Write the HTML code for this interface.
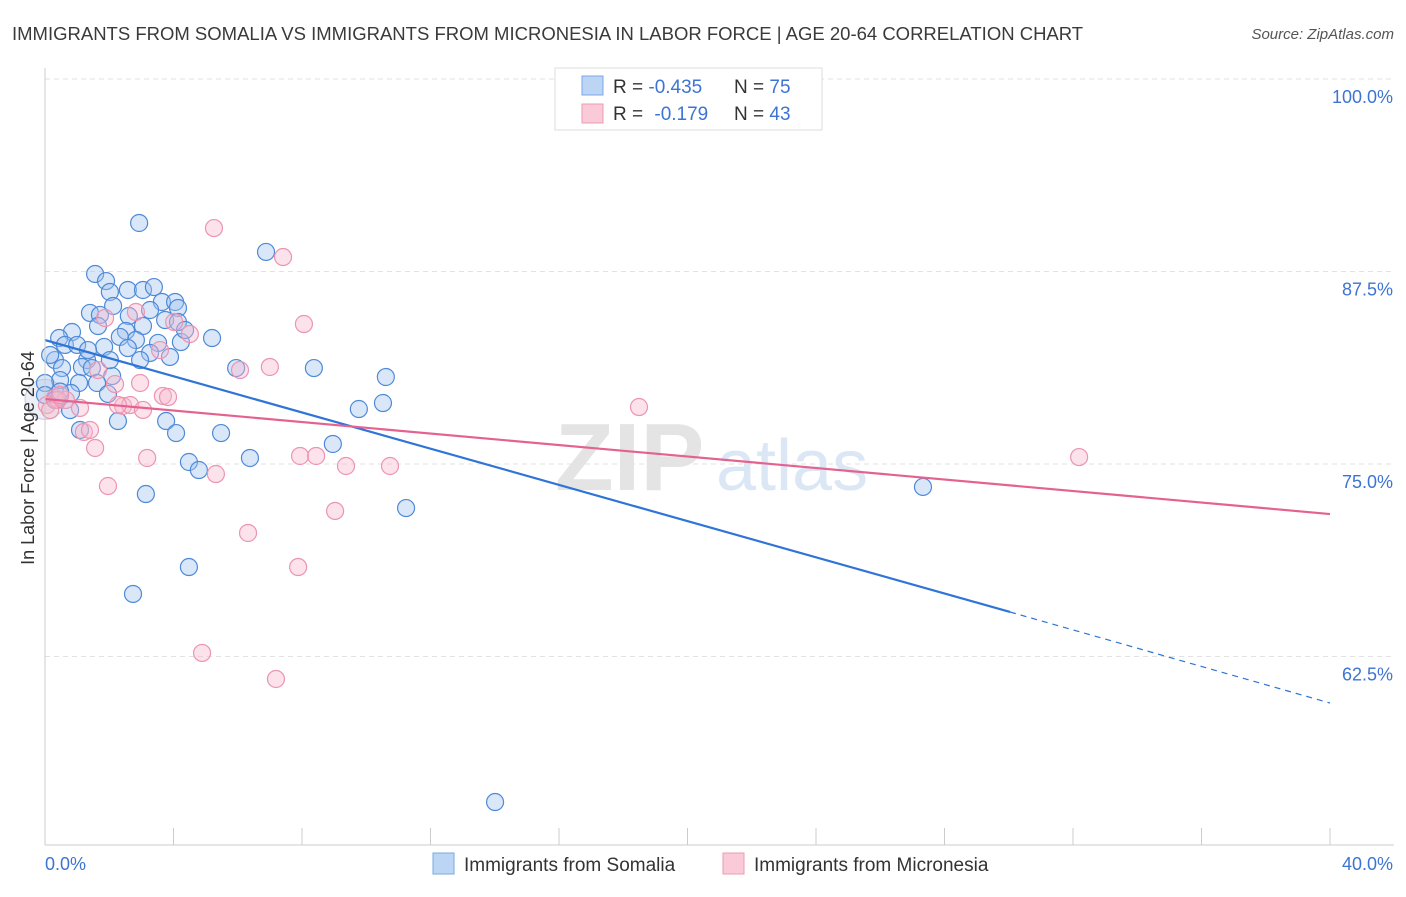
<!DOCTYPE html>
<html><head><meta charset="utf-8"><style>
body{margin:0;background:#fff;font-family:"Liberation Sans",sans-serif}
svg text{font-family:"Liberation Sans",sans-serif}
</style></head><body>
<svg width="1406" height="892" id="chart" xmlns="http://www.w3.org/2000/svg">
<text x="12" y="40" font-size="18.5" fill="#3a3a3a">IMMIGRANTS FROM SOMALIA VS IMMIGRANTS FROM MICRONESIA IN LABOR FORCE | AGE 20-64 CORRELATION CHART</text>
<text x="1394" y="39" font-size="15" fill="#555" text-anchor="end" font-style="italic">Source: ZipAtlas.com</text>
<g id="grid"></g>
<g><text x="555" y="490" font-size="96" fill="#e4e4e4" font-family="Liberation Serif" font-weight="bold">ZIP</text><text x="716" y="490" font-size="72" fill="#dce7f6">atlas</text></g>
<g id="points"></g>
<g id="lines"></g>
<g id="axes"></g>
<text transform="translate(34,458) rotate(-90)" font-size="18" fill="#333" text-anchor="middle">In Labor Force | Age 20-64</text>
<g>
<rect x="555" y="68" width="267" height="62" fill="#fff" stroke="#ddd"/>
<rect x="582" y="76" width="21" height="19" fill="#bcd5f5" stroke="#7aa8e6"/>
<rect x="582" y="104" width="21" height="19" fill="#fbcad8" stroke="#ee9ab5"/>
<text x="613" y="93" font-size="19" fill="#333">R = <tspan fill="#3d74d4">-0.435</tspan><tspan x="734">N = </tspan><tspan fill="#3d74d4">75</tspan></text>
<text x="613" y="120" font-size="19" fill="#333">R = <tspan fill="#3d74d4" dx="6">-0.179</tspan><tspan x="734">N = </tspan><tspan fill="#3d74d4">43</tspan></text>
</g>
<g>
<rect x="433" y="853" width="21" height="21" fill="#bcd5f5" stroke="#7aa8e6"/>
<text x="464" y="871" font-size="19" fill="#333">Immigrants from Somalia</text>
<rect x="723" y="853" width="21" height="21" fill="#fbcad8" stroke="#ee9ab5"/>
<text x="754" y="871" font-size="19" fill="#333">Immigrants from Micronesia</text>
</g>
</svg>
<script>
const yTicks=[100,87.5,75,62.5];
const yTickLabels=["100.0%","87.5%","75.0%","62.5%"];
const xTickLabels=["0.0%","40.0%"];
const blueX=[2.93,6.88,1.56,1.90,2.02,2.58,3.05,3.39,3.64,4.05,4.14,2.12,1.40,1.71,2.61,1.65,3.05,3.74,4.14,0.84,0.44,2.52,2.83,2.33,5.20,0.62,1.00,1.84,2.58,3.52,4.23,3.27,3.89,0.31,1.31,0.53,1.15,1.46,5.95,8.37,2.09,0.47,0,1.06,1.62,10.61,1.96,0.81,0,9.77,10.52,2.27,3.77,1.09,4.08,5.48,8.96,4.48,6.38,4.79,3.14,11.24,27.33,4.48,2.74,14.01,0.31,0.16,2.02,3.27,1.34,0.78,2.96,4.36,0.47];
const blueY=[90.65,88.77,87.34,86.88,86.17,86.30,86.30,86.49,85.52,85.52,85.13,85.26,84.81,84.68,84.61,83.96,83.96,84.35,84.22,83.57,83.18,83.64,83.05,83.25,83.18,82.73,82.73,82.60,82.53,82.86,82.92,82.21,81.95,81.75,81.75,81.23,81.30,81.23,81.23,81.23,80.71,80.45,80.26,80.26,80.26,80.65,79.55,79.61,79.48,78.57,78.96,77.79,77.79,77.21,77.01,77.01,76.30,75.13,75.39,74.61,73.05,72.14,73.51,68.31,66.56,53.05,79.16,82.08,81.75,85.0,82.4,78.5,81.75,83.7,79.7];
const pinkX=[5.26,7.41,8.06,2.83,4.02,4.51,3.58,1.87,7.00,6.07,1.65,2.18,3.67,3.83,0.31,0.06,0.65,1.09,2.43,2.65,3.05,0.40,1.21,1.56,3.18,7.94,8.44,9.37,10.74,5.32,1.96,9.03,6.32,7.88,4.89,7.19,18.49,32.19,2.27,1.40,0.47,0.16,2.96];
const pinkY=[90.32,88.44,84.09,84.87,84.22,83.44,82.40,84.48,81.30,81.10,81.10,80.19,79.42,79.35,79.29,78.83,79.16,78.64,78.77,78.83,78.51,79.16,77.08,76.04,75.39,75.52,75.52,74.87,74.87,74.35,73.57,71.95,70.52,68.31,62.73,61.04,78.70,75.45,78.83,77.21,79.48,78.5,80.26];
const blueLine=[83.05,65.39,59.48]; // y at x=0, x=30.04, x=40
const blueLineX=[0,30.04,40];
const pinkLine=[79.22,71.75];
const pinkLineX=[0,40];

const NS="http://www.w3.org/2000/svg";
const xs=v=>45+v*32.125;
const ys=v=>79+(100-v)*15.4;
function mk(tag,attrs,parent){const e=document.createElementNS(NS,tag);for(const k in attrs)e.setAttribute(k,attrs[k]);parent.appendChild(e);return e;}
const grid=document.getElementById('grid'),axes=document.getElementById('axes'),pts=document.getElementById('points'),lines=document.getElementById('lines');
yTicks.forEach((t,i)=>{
 const l=mk('line',{x1:45,x2:1394,y1:ys(t),y2:ys(t),stroke:'#e2e2e2','stroke-dasharray':'5,4'},grid);
 
 
 const tx=mk('text',{x:1393,y:ys(t)+24,'font-size':18,fill:'#3d74d4','text-anchor':'end'},axes);
 tx.textContent=yTickLabels[i];
 
 
});
mk('line',{x1:45,x2:45,y1:68,y2:845,stroke:'#ccc'},axes);
mk('line',{x1:45,x2:1394,y1:845,y2:845,stroke:'#ccc'},axes);
for(let i=0;i<=10;i++){mk('line',{x1:xs(i*4),x2:xs(i*4),y1:828,y2:845,stroke:'#ccc'},axes);}
[[0,45,'start'],[40,1393,'end']].forEach((d,i)=>{const t=mk('text',{x:d[1],y:870,'font-size':18,fill:'#3d74d4','text-anchor':d[2]},axes);t.textContent=xTickLabels[i];
 
 });
const big=mk('circle',{cx:xs(0),cy:ys(79.2),r:20,fill:'rgba(180,190,220,0.25)',stroke:'rgba(150,160,210,0.5)'},pts);


blueX.forEach((x,i)=>{const c=mk('circle',{cx:xs(x),cy:ys(blueY[i]),r:8.5,fill:'rgba(160,196,240,0.4)',stroke:'#4f8ad8','stroke-width':1.2},pts);
 
 });
pinkX.forEach((x,i)=>{const c=mk('circle',{cx:xs(x),cy:ys(pinkY[i]),r:8.5,fill:'rgba(248,184,204,0.4)',stroke:'#ec94b1','stroke-width':1.2},pts);
 
 });
let l1=mk('line',{x1:xs(blueLineX[0]),y1:ys(blueLine[0]),x2:xs(blueLineX[1]),y2:ys(blueLine[1]),stroke:'#2f74d6','stroke-width':2.2},lines);


let l2=mk('line',{x1:xs(blueLineX[1]),y1:ys(blueLine[1]),x2:xs(blueLineX[2]),y2:ys(blueLine[2]),stroke:'#2f74d6','stroke-width':1.2,'stroke-dasharray':'6,5'},lines);


let l3=mk('line',{x1:xs(pinkLineX[0]),y1:ys(pinkLine[0]),x2:xs(pinkLineX[1]),y2:ys(pinkLine[1]),stroke:'#e4628f','stroke-width':2.2},lines);


</script>
</body></html>
